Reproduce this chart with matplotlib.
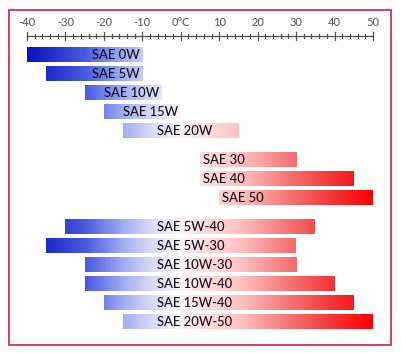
import matplotlib

matplotlib.use("Agg")
import matplotlib.pyplot as plt
import numpy as np
from matplotlib.colors import LinearSegmentedColormap
from matplotlib.patches import Rectangle

plt.rcParams["font.family"] = ["Lato", "DejaVu Sans"]

# oil grades and their temperature ranges (degrees C)
winter = ["SAE 0W", "SAE 5W", "SAE 10W", "SAE 15W", "SAE 20W"]
winter_lo = [-40, -35, -25, -20, -15]
winter_hi = [-10, -10, -5, 0, 15]

summer = ["SAE 30", "SAE 40", "SAE 50"]
summer_lo = [5, 5, 10]
summer_hi = [30, 45, 50]

multi = ["SAE 5W-40", "SAE 5W-30", "SAE 10W-30", "SAE 10W-40", "SAE 15W-40", "SAE 20W-50"]
multi_lo = [-30, -35, -25, -25, -20, -15]
multi_hi = [35, 30, 30, 40, 45, 50]

tick_vals = list(range(-40, 51, 10))
tick_labels = ["-40", "-30", "-20", "-10", "0°C", "10", "20", "30", "40", "50"]

# temperature -> colour
T0, T1 = -40, 50
stops = [(-40, "#0814bf"), (-25, "#4a5ade"), (-15, "#a0aef2"), (-8, "#d8d8f6"),
         (0, "#fbf4f6"), (5, "#ffe0e0"), (15, "#ffc4c4"), (30, "#f46a6a"),
         (40, "#f43434"), (50, "#ff0000")]
cmap = LinearSegmentedColormap.from_list(
    "sae", [((t - T0) / (T1 - T0), c) for t, c in stops])

fig = plt.figure(figsize=(4.01, 3.53), dpi=100)
ax = fig.add_axes([0, 0, 1, 1])
px = 346 / 90.0  # pixels per degree
x0 = T0 - 27 / px
ax.set_xlim(x0, x0 + 401 / px)
ax.set_ylim(353, 0)
ax.axis("off")

# frame
ax.add_patch(Rectangle((x0 + 8.5 / px, 9.5), 382.5 / px, 335, fill=False,
                       edgecolor="#d21c44", lw=1.2))

# scale
axis_y = 36
ax.plot([T0, T1], [axis_y, axis_y], color="#505050", lw=0.9)
for t in np.arange(T0, T1 + 1, 2):
    h = 4 if t % 10 == 0 else 2
    ax.plot([t, t], [axis_y - h, axis_y + h], color="#505050", lw=0.9)
for t, lab in zip(tick_vals, tick_labels):
    ax.text(t, 23, lab, ha="center", va="center", fontsize=8, color="#505050")

bar_h = 15
step = 19


def bar(lo, hi, yc):
    grad = np.linspace(lo, hi, 200).reshape(1, -1)
    ax.imshow(grad, cmap=cmap, vmin=T0, vmax=T1, aspect="auto",
              extent=(lo, hi, yc + bar_h / 2, yc - bar_h / 2), interpolation="bilinear")


txt = dict(fontsize=9.4, color="#12121c", va="center", fontweight="medium")

y = 55
for name, lo, hi in zip(winter, winter_lo, winter_hi):
    bar(lo, hi, y)
    if hi > 10:
        ax.text(-6.3, y, name, ha="left", **txt)
    else:
        ax.text(hi - 0.6, y, name, ha="right", **txt)
    y += step

y += 10
for name, lo, hi in zip(summer, summer_lo, summer_hi):
    bar(lo, hi, y)
    ax.text(lo + 0.8, y, name, ha="left", **txt)
    y += step

y += 10
for name, lo, hi in zip(multi, multi_lo, multi_hi):
    bar(lo, hi, y)
    ax.text(-6.3, y, name, ha="left", **txt)
    y += step

ax.set_xlim(x0, x0 + 401 / px)
ax.set_ylim(353, 0)
fig.savefig("out.png", dpi=100)
